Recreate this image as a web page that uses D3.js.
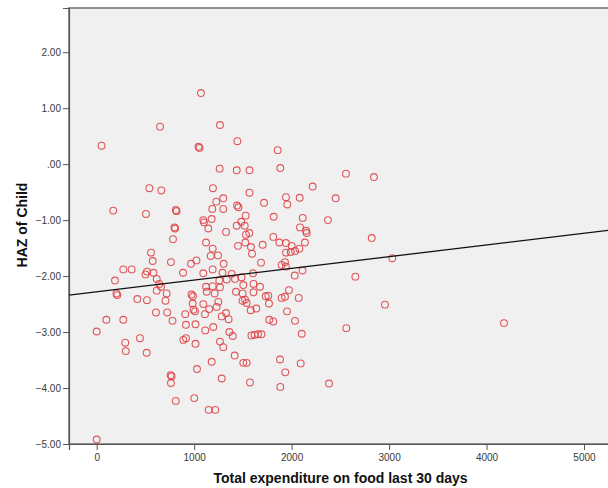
<!DOCTYPE html>
<html>
<head>
<meta charset="utf-8">
<script src="https://cdn.jsdelivr.net/npm/d3@7"></script>
<style>
  body { margin: 0; background: #fff; }
  #chart { width: 608px; height: 488px; }
  text { font-family: "Liberation Sans", Arial, Helvetica, sans-serif; }
</style>
</head>
<body>
<div id="chart"></div>
<script>
// Values
const expenditure = [
  50, 650, 1045, 1055, 540, 663, 170, 506, 812, 820, 798, 805, 783, 557, 575, 762,
  886, 968, 1024, 273, 359, 188, 203, 211, 501, 516, 583, 616, 642, 660, 616, 718,
  417, 516, 706, 608, 724, 778, 99, 273, 0, 909, 916, 1014, 973, 988, 985, 993,
  1009, 293, 299, 444, 513, 889, 916, 1014, 759, 769, 762, 811, 1001, 1029, 0,
  1070, 1265, 1443, 1262, 1437, 1568, 1193, 1568, 1227, 1299, 1186, 1299, 1440, 1455, 1529, 1094,
  1101, 1180, 1145, 1327, 1484, 1437, 1519, 1532, 1566, 1122, 1450, 1525, 1594, 1583, 1190, 1170,
  1245, 1303, 1094, 1190, 1291, 1385, 1419, 1486, 1604, 1122, 1190, 1258, 1334, 1129, 1211, 1265,
  1429, 1504, 1498, 1609, 1609, 1496, 1522, 1539, 1094, 1155, 1231, 1248, 1327, 1354, 1283, 1580,
  1638, 1111, 1196, 1114, 1265, 1299, 1361, 1396, 1588, 1619, 1655, 1691, 1416, 1180, 1504, 1539,
  1283, 1573, 1149, 1217,
  1857, 1884, 2558, 2845, 2216, 1717, 1942, 1956, 2083, 2452, 1816, 2114, 2373, 2086, 2148, 2155,
  2137, 1812, 1874, 1942, 2001, 1703, 1942, 1991, 2035, 2079, 1686, 1898, 1932, 1942, 2112, 2032,
  2822, 3033, 2654, 2958, 1676, 1973, 1734, 1761, 1768, 1898, 1932, 2073, 1953, 1771, 1812, 2035,
  2561, 2104, 1881, 2093, 1935, 1884, 2384, 4179
];
const haz = [
  0.33, 0.67, 0.31, 0.29, -0.43, -0.47, -0.83, -0.89, -0.82, -0.84, -1.13, -1.15, -1.34, -1.58, -1.73, -1.75,
  -1.94, -1.78, -1.72, -1.88, -1.88, -2.08, -2.31, -2.34, -1.97, -1.92, -1.94, -2.05, -2.14, -2.19, -2.26, -2.31,
  -2.41, -2.43, -2.44, -2.65, -2.65, -2.80, -2.78, -2.78, -2.99, -2.68, -2.87, -2.86, -2.33, -2.36, -2.49, -2.60,
  -2.63, -3.19, -3.34, -3.11, -3.37, -3.14, -3.11, -3.21, -3.77, -3.79, -3.91, -4.23, -4.18, -3.66, -4.92,
  1.27, 0.70, 0.41, -0.08, -0.11, -0.11, -0.43, -0.51, -0.67, -0.61, -0.80, -0.80, -0.74, -0.77, -0.92, -1.00,
  -1.04, -0.98, -1.15, -1.21, -1.03, -1.10, -1.10, -1.26, -1.23, -1.40, -1.46, -1.40, -1.60, -1.48, -1.51, -1.64,
  -1.63, -1.78, -1.95, -1.88, -1.94, -1.96, -2.05, -2.02, -1.95, -2.19, -2.18, -2.08, -2.06, -2.28, -2.31, -2.20,
  -2.28, -2.16, -2.31, -2.14, -2.29, -2.44, -2.42, -2.48, -2.50, -2.59, -2.55, -2.46, -2.66, -2.77, -2.72, -2.61,
  -2.58, -2.68, -2.91, -2.97, -3.17, -3.27, -3.00, -3.07, -3.06, -3.05, -3.04, -3.04, -3.42, -3.53, -3.55, -3.55,
  -3.83, -3.90, -4.39, -4.39,
  0.25, -0.07, -0.17, -0.23, -0.40, -0.69, -0.59, -0.72, -0.60, -0.61, -0.94, -0.96, -1.00, -1.13, -1.19, -1.23,
  -1.40, -1.30, -1.40, -1.41, -1.46, -1.44, -1.58, -1.57, -1.55, -1.51, -1.76, -1.80, -1.75, -1.83, -1.90, -1.99,
  -1.32, -1.68, -2.01, -2.51, -2.19, -2.25, -2.36, -2.35, -2.49, -2.39, -2.37, -2.39, -2.63, -2.78, -2.81, -2.80,
  -2.93, -3.03, -3.49, -3.56, -3.72, -3.98, -3.92, -2.84
];

// Fit line (intercept, slope)
const fitIntercept = -2.28;
const fitSlope = 0.000209;

const xTicks = [0, 1000, 2000, 3000, 4000, 5000];
const yTicks = [-5, -4, -3, -2, -1, 0, 1, 2];

const points = expenditure.map((x, i) => ({ x: x, y: haz[i] }));

// Frame geometry
const W = 608, H = 488;
const plot = { left: 69, top: 8, right: 612, bottom: 444 };

const svg = d3.select("#chart")
  .append("svg")
  .attr("width", W)
  .attr("height", H);

const x = d3.scaleLinear()
  .domain([-284, (plot.right - 96.7) / 0.09746])
  .range([plot.left, plot.right]);

const y = d3.scaleLinear()
  .domain([-5, 2.79])
  .range([plot.bottom, plot.top]);

// Plot background
svg.append("rect")
  .attr("x", plot.left)
  .attr("y", plot.top)
  .attr("width", plot.right - plot.left)
  .attr("height", plot.bottom - plot.top)
  .attr("fill", "#f0f0f0")
  .attr("stroke", "#868686")
  .attr("stroke-width", 1.8);

// Axes
const yFormat = d => d === 0 ? ".00" : d3.format(".2f")(d);

const yAxis = svg.append("g")
  .attr("transform", `translate(${plot.left},0)`)
  .call(d3.axisLeft(y).tickValues(yTicks).tickFormat(yFormat).tickSize(6).tickPadding(2));

const xAxis = svg.append("g")
  .attr("transform", `translate(0,${plot.bottom})`)
  .call(d3.axisBottom(x).tickValues(xTicks).tickFormat(d3.format("d")).tickSize(6).tickPadding(4));

[yAxis, xAxis].forEach(g => {
  g.select(".domain").attr("stroke", "#555").attr("stroke-width", 1.2);
  g.selectAll(".tick line").attr("stroke", "#555").attr("stroke-width", 1);
  g.selectAll(".tick text")
    .attr("fill", "#3a3a3a")
    .style("font-size", "10px")
    .style("font-family", "'Liberation Sans', Arial, sans-serif");
});

// Points
svg.append("g")
  .selectAll("circle")
  .data(points)
  .join("circle")
  .attr("cx", d => x(d.x))
  .attr("cy", d => y(d.y))
  .attr("r", 3.4)
  .attr("fill", "none")
  .attr("stroke", "#dd3b3f")
  .attr("stroke-opacity", 0.85)
  .attr("stroke-width", 1.1);

// Fit line across the whole x range
const xr = x.domain();
svg.append("line")
  .attr("x1", x(xr[0]))
  .attr("y1", y(fitIntercept + fitSlope * xr[0]))
  .attr("x2", x(xr[1]))
  .attr("y2", y(fitIntercept + fitSlope * xr[1]))
  .attr("stroke", "#111")
  .attr("stroke-width", 1.3);

// Axis titles
svg.append("text")
  .attr("x", (plot.left + plot.right) / 2)
  .attr("y", 483)
  .attr("text-anchor", "middle")
  .style("font-size", "14px")
  .style("font-weight", "bold")
  .attr("fill", "#111")
  .text("Total expenditure on food last 30 days");

svg.append("text")
  .attr("transform", "translate(27,225) rotate(-90)")
  .attr("text-anchor", "middle")
  .style("font-size", "14px")
  .style("font-weight", "bold")
  .attr("fill", "#111")
  .text("HAZ of Child");
</script>
</body>
</html>
